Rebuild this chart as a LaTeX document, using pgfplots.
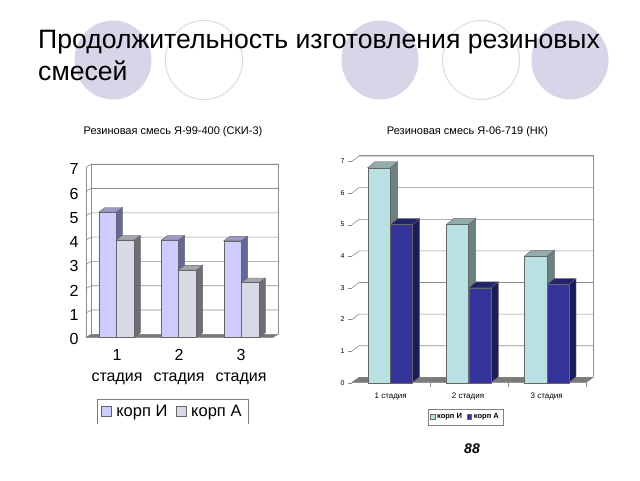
\documentclass[border=0pt]{standalone}
\usepackage{fontspec}
\setmainfont{Liberation Sans}
\usepackage{pgfplots}
\pgfplotsset{compat=1.18}

\definecolor{circ}{HTML}{D6D6E8}
\definecolor{circline}{HTML}{DCDCDC}
\definecolor{wall}{HTML}{8C8C8C}
\definecolor{floorgray}{HTML}{7A7A7A}
% left chart
\definecolor{liF}{HTML}{CCCCFF}
\definecolor{liS}{HTML}{66669A}
\definecolor{liT}{HTML}{9A9AC4}
\definecolor{laF}{HTML}{D8D8E6}
\definecolor{laS}{HTML}{6E6E78}
\definecolor{laT}{HTML}{A4A4AE}
% right chart
\definecolor{riF}{HTML}{B9E0E3}
\definecolor{riS}{HTML}{6C8080}
\definecolor{riT}{HTML}{93ABAB}
\definecolor{raF}{HTML}{333399}
\definecolor{raS}{HTML}{1B1B58}
\definecolor{raT}{HTML}{23236E}

% x0, x1, value, front, side, top
\newcommand\threedbar[6]{%
  \pgfmathsetmacro\xa{#2+\bdx}%
  \pgfmathsetmacro\xb{#1+\bdx}%
  \pgfmathsetmacro\ya{#3+\bdy}%
  \pgfmathsetmacro\yb{\bdy}%
  \edef\tmp{%
    \noexpand\addplot[forget plot,fill=#5,draw=black!60,line width=.4pt] coordinates {(#2,0) (\xa,\yb) (\xa,\ya) (#2,#3)} --cycle;
    \noexpand\addplot[forget plot,fill=#6,draw=black!60,line width=.4pt] coordinates {(#1,#3) (\xb,\ya) (\xa,\ya) (#2,#3)} --cycle;
    \noexpand\addplot[forget plot,fill=#4,draw=black!60,line width=.4pt] coordinates {(#1,0) (#2,0) (#2,#3) (#1,#3)} --cycle;
  }\tmp}
% front x, back left x, back right x, level
\newcommand\gridline[4]{%
  \pgfmathsetmacro\ya{#4+\wdy}%
  \edef\tmp{\noexpand\addplot[forget plot,wall,line width=.6pt] coordinates {(#1,#4) (#2,\ya) (#3,\ya)};}\tmp}
\newcommand\st{\rule{0pt}{12pt}}

\pgfplotsset{
  big square/.style={legend image code/.code={\draw[##1] (0pt,-4.5pt) rectangle (10pt,5pt);\path (12pt,0pt);}},
  small square/.style={legend image code/.code={\draw[##1] (0pt,-2pt) rectangle (4.5pt,2.5pt);}},
}

\begin{document}
\begin{tikzpicture}[x=1pt,y=1pt]
\useasboundingbox (0,0) rectangle (640,480);
\fill[white] (0,0) rectangle (640,480);
% slide background
\fill[circ] (113,420) ellipse (38.5 and 39.5);
\draw[circline,line width=1pt] (204,420) ellipse (38.5 and 39.5);
\fill[circ] (380,420) ellipse (38.5 and 39.5);
\draw[circline,line width=1pt] (481,420) ellipse (38.5 and 39.5);
\fill[circ] (570,420) ellipse (38.5 and 39.5);
\node[anchor=base west,inner sep=0pt,font=\fontsize{26.6}{30}\selectfont] at (38,431) {Продолжительность изготовления резиновых};
\node[anchor=base west,inner sep=0pt,font=\fontsize{26.6}{30}\selectfont] at (38,399) {смесей};
\node[font=\fontsize{11}{13}\selectfont] at (173,348) {Резиновая смесь Я-99-400 (СКИ-3)};
\node[font=\fontsize{11}{13}\selectfont] at (467.5,348) {Резиновая смесь Я-06-719 (НК)};
\node[font=\bfseries\itshape\fontsize{14}{16}\selectfont] at (472,31) {88};

% left chart
\def\wdy{0.123}\def\bdx{6.3}\def\bdy{0.19}
\begin{axis}[
  at={(86pt,142.7pt)},anchor=origin,scale only axis,
  width=192pt,height=173pt,
  xmin=86,xmax=278,ymin=0,ymax=7.12,
  clip=false,
  axis line style={draw=none},
  xtick={117,179,241},
  xticklabels={\st 1\\стадия,\st 2\\стадия,\st 3\\стадия},
  x tick label style={align=center,font=\fontsize{16}{21}\selectfont,yshift=-8pt},
  ytick={0,1,2,3,4,5,6,7},
  y tick label style={font=\fontsize{16}{18}\selectfont,xshift=-4pt,yshift=-2pt},
  /pgf/number format/assume math mode=true,
  tick style={draw=none},
  axis x line*=bottom,axis y line*=left,
  legend columns=2,
  legend style={at={(axis cs:172.5,-2.54)},anchor=north,draw=gray,line width=.8pt,
    font=\fontsize{16.5}{17}\selectfont,inner xsep=4.5pt,inner ysep=4pt,
    /tikz/every even column/.append style={column sep=7pt}},
]
\pgfplotsinvokeforeach{1,...,7}{\gridline{86}{91}{278}{#1}}
\addplot[forget plot,wall,line width=.6pt] coordinates {(86,0) (86,7)};
\addplot[forget plot,wall,line width=.6pt] coordinates {(91,0.123) (91,7.12) (278,7.12) (278,0.123)};
\addplot[forget plot,fill=floorgray,draw=floorgray] coordinates {(86,0) (91,0.123) (278,0.123) (273,0)} --cycle;
\threedbar{98.7}{116}{5.15}{liF}{liS}{liT}
\threedbar{116}{134}{4.0}{laF}{laS}{laT}
\threedbar{161.3}{178.3}{4.0}{liF}{liS}{liT}
\threedbar{178.3}{196.3}{2.77}{laF}{laS}{laT}
\threedbar{223.7}{241.3}{3.97}{liF}{liS}{liT}
\threedbar{241.3}{259}{2.25}{laF}{laS}{laT}
\addlegendimage{big square,fill=liF,draw=black!60}
\addlegendentry{корп И}
\addlegendimage{big square,fill=laF,draw=black!60}
\addlegendentry{корп А}
\end{axis}

% right chart
\def\wdy{0.168}\def\bdx{7.3}\def\bdy{0.19}
\begin{axis}[
  at={(352pt,97.3pt)},anchor=origin,scale only axis,
  width=241pt,height=227pt,
  xmin=352,xmax=593,ymin=0,ymax=7.18,
  clip=false,
  axis line style={draw=none},
  xtick={390.7,468,546.7},
  xticklabels={1 стадия,2 стадия,3 стадия},
  x tick label style={font=\fontsize{8}{9}\selectfont,yshift=-3pt},
  ytick={0,1,2,3,4,5,6,7},
  y tick label style={font=\fontsize{7}{8}\selectfont},
  /pgf/number format/assume math mode=true,
  x tick style={draw=none},
  y tick style={draw=wall},
  tick align=outside,major tick length=4pt,
  axis x line*=bottom,axis y line*=left,
  legend columns=2,
  legend style={at={(axis cs:465.5,-0.83)},anchor=north,draw=gray,line width=.5pt,
    font=\bfseries\fontsize{7.5}{8}\selectfont,inner xsep=2pt,inner ysep=2.5pt,
    /tikz/every even column/.append style={column sep=3pt}},
]
\pgfplotsinvokeforeach{0,...,7}{\gridline{352}{359}{593}{#1}}
\addplot[forget plot,wall,line width=.6pt] coordinates {(359,7.18) (593,7.18) (593,0.168)};
\addplot[forget plot,wall,line width=.6pt] coordinates {(430,0) (430,-0.13)};
\addplot[forget plot,wall,line width=.6pt] coordinates {(508,0) (508,-0.13)};
\addplot[forget plot,wall,line width=.6pt] coordinates {(586,0) (586,-0.13)};
\addplot[forget plot,fill=floorgray,draw=floorgray] coordinates {(352,0) (359,0.168) (593,0.168) (586,0)} --cycle;
\threedbar{367.7}{390.3}{6.8}{riF}{riS}{riT}
\threedbar{390.3}{412.3}{5.0}{raF}{raS}{raT}
\threedbar{446.3}{468.3}{5.0}{riF}{riS}{riT}
\threedbar{468.7}{491}{3.0}{raF}{raS}{raT}
\threedbar{524.3}{547}{4.0}{riF}{riS}{riT}
\threedbar{547}{568.7}{3.1}{raF}{raS}{raT}
\addlegendimage{small square,fill=riF,draw=black!60}
\addlegendentry{корп И}
\addlegendimage{small square,fill=raF,draw=black!60}
\addlegendentry{корп А}
\end{axis}
% legend of the left chart is cut off at the bottom in the slide
\fill[white] (90,50) rectangle (255,56.5);
\end{tikzpicture}
\end{document}
